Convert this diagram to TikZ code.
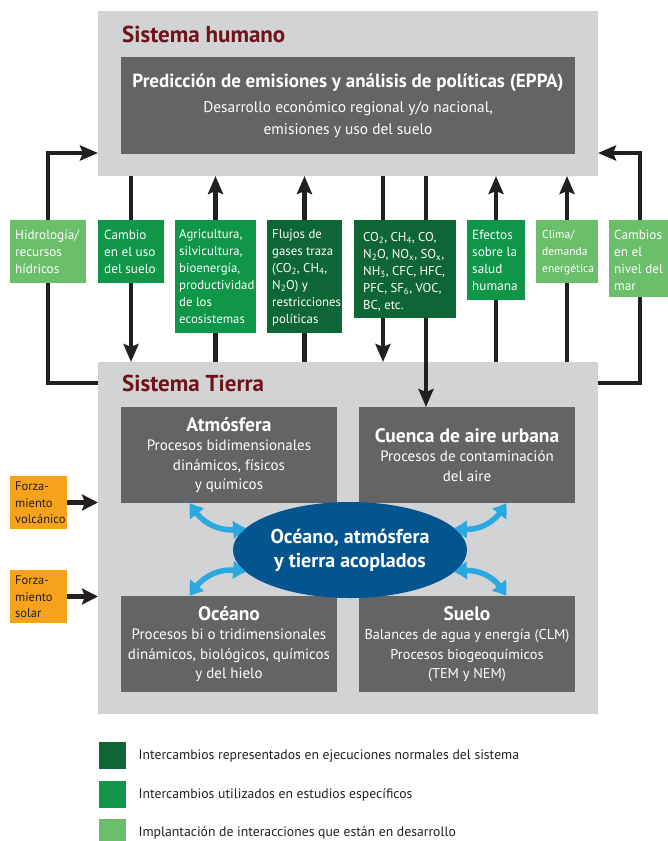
\documentclass[tikz,border=0pt]{standalone}
\usepackage{fontspec}
\setmainfont{PT Sans}
\usetikzlibrary{arrows.meta,shapes.geometric,bending}

\definecolor{sysgray}{HTML}{D1D3D4}
\definecolor{modgray}{HTML}{636466}
\definecolor{titlered}{HTML}{6E1317}
\definecolor{gdark}{HTML}{0E6637}
\definecolor{gmid}{HTML}{0F9648}
\definecolor{glight}{HTML}{6CBF6A}
\definecolor{forcing}{HTML}{F6A31B}
\definecolor{coupled}{HTML}{04558F}
\definecolor{exch}{HTML}{29A9E0}
\definecolor{ink}{HTML}{231F20}

\pgfdeclarelayer{bg}
\pgfdeclarelayer{fg}
\pgfsetlayers{bg,main,fg}

\newcommand{\modtitle}[1]{{\fontsize{19.5}{20}\selectfont\bfseries #1}}

\begin{document}
\begin{tikzpicture}[x=1pt,y=1pt,
  sysbox/.style={fill=sysgray, anchor=north west, inner sep=0pt, outer sep=0pt},
  systitle/.style={text=titlered, font=\fontsize{23}{24}\selectfont\bfseries, anchor=base west, inner sep=0pt},
  modbox/.style={fill=modgray, text=white, anchor=north west, inner sep=0pt, outer sep=0pt,
                 align=center, font=\fontsize{15}{19.5}\selectfont},
  gbox/.style={anchor=north west, inner sep=0pt, outer sep=0pt},
  gtext/.style={anchor=north west, inner sep=0pt, text=white, align=left, font=\fontsize{13.2}{17}\selectfont},
  ftext/.style={anchor=north west, inner sep=0pt, text=ink, align=left, font=\fontsize{12.5}{16.5}\selectfont},
  link/.style={draw=ink, line width=4.5pt},
  linkarr/.style={link, -{Stealth[length=18pt,width=15pt,inset=3pt]}},
  forcearr/.style={draw=ink, line width=5.5pt, -{Stealth[length=16pt,width=16pt,inset=3pt]}},
  exarr/.style={draw=exch, line width=5.5pt,
                {Triangle[width=17pt,length=13pt,bend]}-{Triangle[width=17pt,length=13pt,bend]}},
  legsq/.style={anchor=north west, inner sep=0pt, minimum size=27pt},
  legtext/.style={anchor=west, inner sep=0pt, text=ink, font=\fontsize{13.7}{15}\selectfont}
]
\useasboundingbox (0,0) rectangle (668,-841);

% system frames
\begin{pgfonlayer}{bg}
  \fill[white] (0,0) rectangle (668,-841);
  \node[sysbox, minimum width=500pt, minimum height=165pt] (hum) at (98,-11) {};
  \node[sysbox, minimum width=500pt, minimum height=352pt] (earth) at (98,-362) {};
\end{pgfonlayer}

\node[systitle] (humt) at (122,-42) {Sistema humano};
\node[systitle] (eartht) at (122,-391) {Sistema Tierra};

% human system model
\node[modbox, minimum width=454pt, minimum height=97pt, font=\fontsize{15.4}{22}\selectfont] (eppa) at (121,-57)
  {{\fontsize{19}{21}\selectfont\bfseries Predicción de emisiones y análisis de políticas (EPPA)}\\[3pt]
   Desarrollo económico regional y/o nacional,\\ emisiones y uso del suelo};

% earth system components
\node[modbox, minimum width=216pt, minimum height=96pt] (atm) at (121,-407)
  {\modtitle{Atmósfera}\\ Procesos bidimensionales\\ dinámicos, físicos\\ y químicos};
\node[modbox, minimum width=216pt, minimum height=96pt] (cue) at (359,-407)
  {\modtitle{Cuenca de aire urbana}\\ Procesos de contaminación\\ del aire};
\node[modbox, minimum width=216pt, minimum height=96pt] (oce) at (121,-596)
  {\modtitle{Océano}\\ Procesos bi o tridimensionales\\ dinámicos, biológicos, químicos\\ y del hielo};
\node[modbox, minimum width=216pt, minimum height=96pt, font=\fontsize{14.3}{19.5}\selectfont] (sue) at (359,-596)
  {\modtitle{Suelo}\\ Balances de agua y energía (CLM)\\ Procesos biogeoquímicos\\ (TEM y NEM)};

\node[ellipse, fill=coupled, minimum width=234pt, minimum height=96pt, inner sep=0pt, text=white,
      align=center, font=\fontsize{20}{24}\selectfont\bfseries] (ell) at (350,-550)
  {Océano, atmósfera\\ y tierra acoplados};

% exchange boxes between the two systems
\begin{pgfonlayer}{fg}
  \node[gbox, fill=glight, minimum width=76pt, minimum height=63pt] (hid) at (10,-220) {};
  \node[gtext] (hidt) at ([shift={(5,-10)}]hid.north west) {Hidrología/\\recursos\\hídricos};

  \node[gbox, fill=gmid, minimum width=66pt, minimum height=63pt] (cam) at (98,-220) {};
  \node[gtext] (camt) at ([shift={(6,-10)}]cam.north west) {Cambio\\en el uso\\del suelo};

  \node[gbox, fill=gmid, minimum width=81pt, minimum height=113pt] (agr) at (175,-220) {};
  \node[gtext, font=\fontsize{12.8}{17}\selectfont] (agrt) at ([shift={(4,-9)}]agr.north west)
    {Agricultura,\\silvicultura,\\bioenergía,\\productividad\\de los\\ecosistemas};

  \node[gbox, fill=gdark, minimum width=75pt, minimum height=113pt] (flu) at (267,-220) {};
  \node[gtext, font=\fontsize{12.8}{17}\selectfont] (flut) at ([shift={(5,-9)}]flu.north west)
    {Flujos de\\gases traza\\(CO\textsubscript{2}, CH\textsubscript{4},\\N\textsubscript{2}O) y\\restricciones\\políticas};

  \node[gbox, fill=gdark, minimum width=102pt, minimum height=98pt] (gas) at (354,-220) {};
  \node[gtext, font=\fontsize{12.8}{17}\selectfont] (gast) at ([shift={(9,-12)}]gas.north west)
    {CO\textsubscript{2}, CH\textsubscript{4}, CO,\\N\textsubscript{2}O, NO\textsubscript{x}, SO\textsubscript{x},\\NH\textsubscript{3}, CFC, HFC,\\PFC, SF\textsubscript{6}, VOC,\\BC, etc.};

  \node[gbox, fill=gmid, minimum width=58pt, minimum height=80pt] (efe) at (467,-220) {};
  \node[gtext] (efet) at ([shift={(5,-10)}]efe.north west) {Efectos\\sobre la\\salud\\humana};

  \node[gbox, fill=glight, minimum width=62pt, minimum height=63pt] (cli) at (536,-220) {};
  \node[gtext, font=\fontsize{11.5}{17}\selectfont] (clit) at ([shift={(6,-10)}]cli.north west) {Clima/\\demanda\\energética};

  \node[gbox, fill=glight, minimum width=59pt, minimum height=77pt] (mar) at (609,-220) {};
  \node[gtext] (mart) at ([shift={(5,-10)}]mar.north west) {Cambios\\en el\\nivel del\\mar};

  % external forcing
  \node[gbox, fill=forcing, minimum width=57pt, minimum height=53pt] (volc) at (10,-476) {};
  \node[ftext] (volct) at ([shift={(5,-6)}]volc.north west) {Forza-\\miento\\volcánico};
  \node[gbox, fill=forcing, minimum width=57pt, minimum height=53pt] (sol) at (10,-570) {};
  \node[ftext] (solt) at ([shift={(5,-6)}]sol.north west) {Forza-\\miento\\solar};
\end{pgfonlayer}

% connector guide positions
\coordinate (gasA) at (383,-300);
\coordinate (gasB) at (426,-300);
\coordinate (lbot) at (48,-383);
\coordinate (ltop) at (48,-153);
\coordinate (rbot) at (640,-383);
\coordinate (rtop) at (640,-153);

% exchanges between human and earth systems
\draw[linkarr] (hum.south -| cam) -- (earth.north -| cam);
\draw[linkarr] (earth.north -| agr) -- (hum.south -| agr);
\draw[linkarr] (earth.north -| flu) -- (hum.south -| flu);
\draw[linkarr] (hum.south -| gasA) -- (earth.north -| gasA);
\draw[linkarr] (hum.south -| gasB) -- (cue.north -| gasB);
\draw[linkarr] (earth.north -| efe) -- (hum.south -| efe);
\draw[linkarr] (earth.north -| cli) -- (hum.south -| cli);
\draw[linkarr] (lbot -| earth.west) -- (lbot) -- (ltop) -- (ltop -| hum.west);
\draw[linkarr] (rbot -| earth.east) -- (rbot) -- (rtop) -- (rtop -| hum.east);

% forcing arrows
\draw[forcearr] (volc.east) -- (volc.east -| earth.west);
\draw[forcearr] (sol.east) -- (sol.east -| earth.west);

% coupling arrows
\draw[exarr] ([xshift=-39pt]atm.south) to[bend right=40] (ell.168);
\draw[exarr] ([xshift=-39pt]oce.north) to[bend left=40] (ell.192);
\draw[exarr] ([xshift=39pt]cue.south) to[bend left=40] (ell.12);
\draw[exarr] ([xshift=39pt]sue.north) to[bend right=40] (ell.348);

% legend
\node[legsq, fill=gdark] (leg1) at (99,-742) {};
\node[legtext] (leg1t) at ([xshift=12pt]leg1.east) {Intercambios representados en ejecuciones normales del sistema};
\node[legsq, fill=gmid] (leg2) at (99,-781) {};
\node[legtext] (leg2t) at ([xshift=12pt]leg2.east) {Intercambios utilizados en estudios específicos};
\node[legsq, fill=glight] (leg3) at (99,-819) {};
\node[legtext] (leg3t) at ([xshift=12pt]leg3.east) {Implantación de interacciones que están en desarrollo};
\end{tikzpicture}
\end{document}
